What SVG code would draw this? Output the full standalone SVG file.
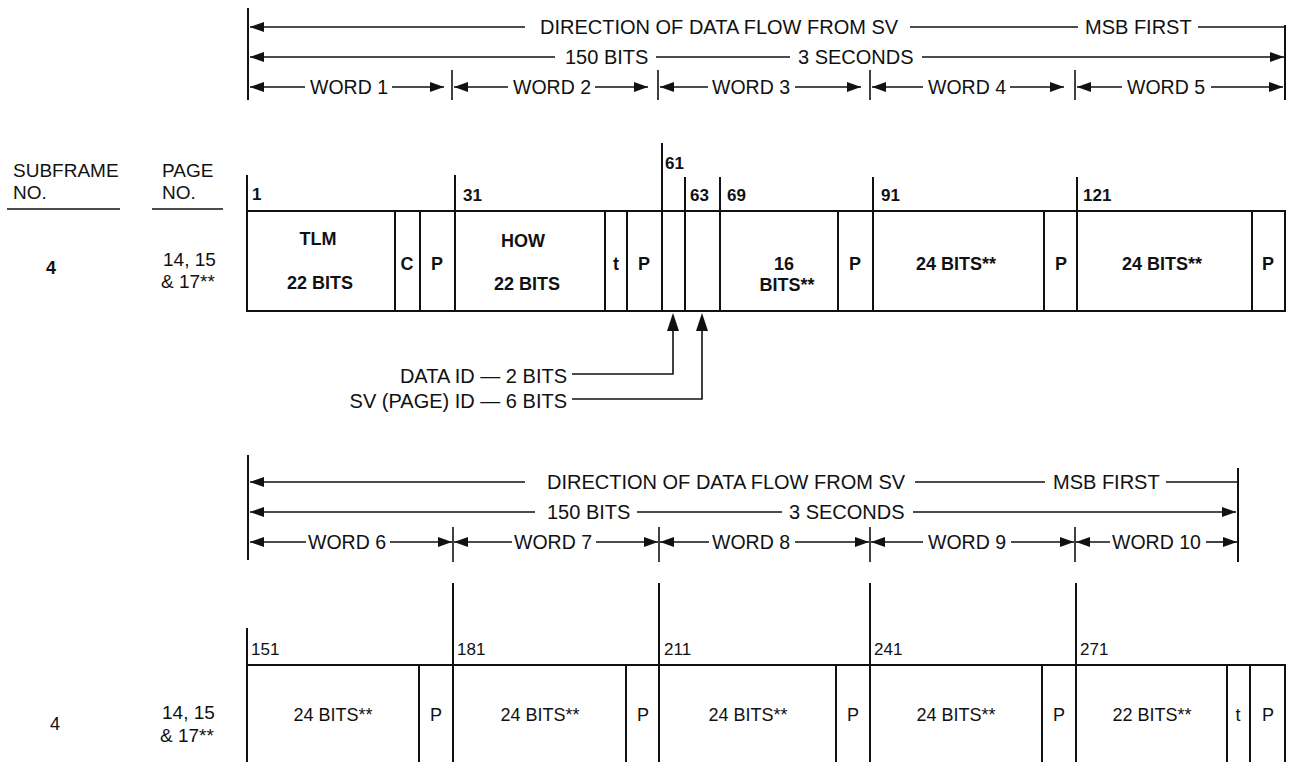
<svg xmlns="http://www.w3.org/2000/svg" width="1290" height="762" viewBox="0 0 1290 762">
<defs>
<marker id="ah" markerUnits="userSpaceOnUse" markerWidth="14" markerHeight="10" refX="14" refY="5" orient="auto">
<path d="M0,0 L14,5 L0,10 z" fill="#111"/>
</marker>
<style>
.ln{stroke:#111;stroke-width:2;fill:none}
.th{stroke:#111;stroke-width:1.6;fill:none}
.ar{stroke:#111;stroke-width:1.6;fill:none;marker-end:url(#ah)}
.box{stroke:#111;stroke-width:2;fill:#fff}
.h{font-family:"Liberation Sans",Arial,sans-serif;font-size:20px;fill:#111}
.w{font-family:"Liberation Sans",Arial,sans-serif;font-size:19.5px;fill:#111}
.b{font-family:"Liberation Sans",Arial,sans-serif;font-size:18px;font-weight:bold;fill:#111;text-anchor:middle}
.r{font-family:"Liberation Sans",Arial,sans-serif;font-size:18px;fill:#111;text-anchor:middle}
.nb{font-family:"Liberation Sans",Arial,sans-serif;font-size:17px;font-weight:bold;fill:#111}
.nr{font-family:"Liberation Sans",Arial,sans-serif;font-size:17px;fill:#111}
.lab{font-family:"Liberation Sans",Arial,sans-serif;font-size:19px;fill:#111}
.tip{fill:#111}
</style>
</defs>
<rect width="1290" height="762" fill="#fff"/>

<!-- ===== TOP HEADER ===== -->
<g id="header-top">
<line class="ln" x1="248" y1="8" x2="248" y2="100"/>
<line class="ln" x1="1285" y1="25" x2="1285" y2="100"/>
<line class="ar" x1="525" y1="27" x2="250" y2="27"/>
<text class="h" x="540" y="34">DIRECTION OF DATA FLOW FROM SV</text>
<line class="th" x1="910" y1="27" x2="1078" y2="27"/>
<text class="h" x="1085" y="34">MSB FIRST</text>
<line class="th" x1="1198" y1="27" x2="1285" y2="27"/>
<line class="ar" x1="555" y1="57" x2="250" y2="57"/>
<text class="h" x="565" y="64">150 BITS</text>
<line class="th" x1="656" y1="57" x2="790" y2="57"/>
<text class="h" x="798" y="64">3 SECONDS</text>
<line class="ar" x1="922" y1="57" x2="1284" y2="57"/>
<line class="th" x1="452" y1="70" x2="452" y2="100"/>
<line class="th" x1="658" y1="70" x2="658" y2="100"/>
<line class="th" x1="870" y1="70" x2="870" y2="100"/>
<line class="th" x1="1075" y1="70" x2="1075" y2="100"/>
<line class="ar" x1="305" y1="87" x2="250" y2="87"/>
<text class="w" x="310" y="94">WORD 1</text>
<line class="ar" x1="392" y1="87" x2="444" y2="87"/>
<line class="ar" x1="508" y1="87" x2="454" y2="87"/>
<text class="w" x="513" y="94">WORD 2</text>
<line class="ar" x1="595" y1="87" x2="648" y2="87"/>
<line class="ar" x1="708" y1="87" x2="660" y2="87"/>
<text class="w" x="712" y="94">WORD 3</text>
<line class="ar" x1="795" y1="87" x2="861" y2="87"/>
<line class="ar" x1="923" y1="87" x2="872" y2="87"/>
<text class="w" x="928" y="94">WORD 4</text>
<line class="ar" x1="1010" y1="87" x2="1064" y2="87"/>
<line class="ar" x1="1122" y1="87" x2="1077" y2="87"/>
<text class="w" x="1127" y="94">WORD 5</text>
<line class="ar" x1="1211" y1="87" x2="1283" y2="87"/>
</g>

<!-- ===== LEFT LABELS TOP ===== -->
<g id="labels-top">
<text class="lab" x="13" y="177">SUBFRAME</text>
<text class="lab" x="13" y="199">NO.</text>
<line class="th" x1="7" y1="209" x2="120" y2="209"/>
<text class="lab" x="162" y="177">PAGE</text>
<text class="lab" x="162" y="199">NO.</text>
<line class="th" x1="152" y1="209" x2="223" y2="209"/>
<text class="b" x="51" y="274" font-size="19">4</text>
<text class="lab" x="163" y="266">14, 15</text>
<text class="lab" x="161" y="288">&amp; 17**</text>
</g>

<!-- ===== TOP ROW ===== -->
<g id="row-top">
<rect class="box" x="247" y="211" width="1038" height="100"/>
<line class="ln" x1="247" y1="175" x2="247" y2="311"/>
<line class="ln" x1="395" y1="211" x2="395" y2="311"/>
<line class="ln" x1="420" y1="211" x2="420" y2="311"/>
<line class="ln" x1="455" y1="175" x2="455" y2="311"/>
<line class="ln" x1="605" y1="211" x2="605" y2="311"/>
<line class="ln" x1="627" y1="211" x2="627" y2="311"/>
<line class="ln" x1="662" y1="143" x2="662" y2="311"/>
<line class="ln" x1="685" y1="177" x2="685" y2="311"/>
<line class="ln" x1="720" y1="177" x2="720" y2="311"/>
<line class="ln" x1="838" y1="211" x2="838" y2="311"/>
<line class="ln" x1="873" y1="177" x2="873" y2="311"/>
<line class="ln" x1="1044" y1="211" x2="1044" y2="311"/>
<line class="ln" x1="1077" y1="177" x2="1077" y2="311"/>
<line class="ln" x1="1252" y1="211" x2="1252" y2="311"/>
<text class="nb" x="252" y="200">1</text>
<text class="nb" x="463" y="201">31</text>
<text class="nb" x="665" y="169">61</text>
<text class="nb" x="690" y="201">63</text>
<text class="nb" x="727" y="201">69</text>
<text class="nb" x="881" y="201">91</text>
<text class="nb" x="1083" y="201">121</text>
<g id="tlm"><text class="b" x="318" y="245">TLM</text><text class="b" x="320" y="289">22 BITS</text></g>
<g id="c1"><text class="b" x="407" y="270">C</text></g>
<g id="p1"><text class="b" x="437" y="270">P</text></g>
<g id="how"><text class="b" x="523" y="247">HOW</text><text class="b" x="527" y="290">22 BITS</text></g>
<g id="t2"><text class="b" x="616" y="270">t</text></g>
<g id="p2"><text class="b" x="644" y="270">P</text></g>
<g id="w3"><text class="b" x="784" y="270">16</text><text class="b" x="787" y="291">BITS**</text></g>
<g id="p3"><text class="b" x="855" y="270">P</text></g>
<g id="w4"><text class="b" x="956" y="270">24 BITS**</text></g>
<g id="p4"><text class="b" x="1061" y="270">P</text></g>
<g id="w5"><text class="b" x="1162" y="270">24 BITS**</text></g>
<g id="p5"><text class="b" x="1268" y="270">P</text></g>
</g>

<!-- ===== ID POINTERS ===== -->
<g id="connectors">
<polyline class="th" points="572,374 673,374 673,330"/>
<path class="tip" d="M673,313 L679,331 L667,331 z"/>
<polyline class="th" points="572,399 702,399 702,330"/>
<path class="tip" d="M702,313 L708,331 L696,331 z"/>
</g>
<g id="id-labels">
<text class="h" x="567" y="383" text-anchor="end">DATA ID — 2 BITS</text>
<text class="h" x="567" y="408" text-anchor="end">SV (PAGE) ID — 6 BITS</text>
</g>

<!-- ===== BOTTOM HEADER ===== -->
<g id="header-bottom">
<line class="ln" x1="248" y1="455" x2="248" y2="560"/>
<line class="ln" x1="1238" y1="468" x2="1238" y2="562"/>
<line class="ar" x1="525" y1="482" x2="250" y2="482"/>
<text class="h" x="547" y="489">DIRECTION OF DATA FLOW FROM SV</text>
<line class="th" x1="915" y1="482" x2="1045" y2="482"/>
<text class="h" x="1053" y="489">MSB FIRST</text>
<line class="th" x1="1166" y1="482" x2="1238" y2="482"/>
<line class="ar" x1="535" y1="512" x2="250" y2="512"/>
<text class="h" x="547" y="519">150 BITS</text>
<line class="th" x1="637" y1="512" x2="782" y2="512"/>
<text class="h" x="789" y="519">3 SECONDS</text>
<line class="ar" x1="913" y1="512" x2="1236" y2="512"/>
<line class="th" x1="453" y1="527" x2="453" y2="562"/>
<line class="th" x1="659" y1="527" x2="659" y2="562"/>
<line class="th" x1="870" y1="527" x2="870" y2="562"/>
<line class="th" x1="1075" y1="527" x2="1075" y2="562"/>
<line class="ar" x1="306" y1="542" x2="250" y2="542"/>
<text class="w" x="308" y="549">WORD 6</text>
<line class="ar" x1="390" y1="542" x2="452" y2="542"/>
<line class="ar" x1="512" y1="542" x2="454" y2="542"/>
<text class="w" x="514" y="549">WORD 7</text>
<line class="ar" x1="596" y1="542" x2="658" y2="542"/>
<line class="ar" x1="709" y1="542" x2="660" y2="542"/>
<text class="w" x="712" y="549">WORD 8</text>
<line class="ar" x1="795" y1="542" x2="869" y2="542"/>
<line class="ar" x1="923" y1="542" x2="871" y2="542"/>
<text class="w" x="928" y="549">WORD 9</text>
<line class="ar" x1="1011" y1="542" x2="1074" y2="542"/>
<line class="ar" x1="1110" y1="542" x2="1076" y2="542"/>
<text class="w" x="1112" y="549">WORD 10</text>
<line class="ar" x1="1206" y1="542" x2="1237" y2="542"/>
</g>

<!-- ===== LEFT LABELS BOTTOM ===== -->
<g id="labels-bottom">
<text class="r" x="55" y="730" font-size="19">4</text>
<text class="lab" x="162" y="719">14, 15</text>
<text class="lab" x="160" y="742">&amp; 17**</text>
</g>

<!-- ===== BOTTOM ROW ===== -->
<g id="row-bottom">
<rect class="box" x="247" y="665" width="1038" height="100"/>
<line class="ln" x1="247" y1="628" x2="247" y2="762"/>
<line class="ln" x1="419" y1="665" x2="419" y2="762"/>
<line class="ln" x1="453" y1="583" x2="453" y2="762"/>
<line class="ln" x1="626" y1="665" x2="626" y2="762"/>
<line class="ln" x1="659" y1="583" x2="659" y2="762"/>
<line class="ln" x1="836" y1="665" x2="836" y2="762"/>
<line class="ln" x1="870" y1="583" x2="870" y2="762"/>
<line class="ln" x1="1042" y1="665" x2="1042" y2="762"/>
<line class="ln" x1="1076" y1="583" x2="1076" y2="762"/>
<line class="ln" x1="1227" y1="665" x2="1227" y2="762"/>
<line class="ln" x1="1250" y1="665" x2="1250" y2="762"/>
<text class="nr" x="251" y="655">151</text>
<text class="nr" x="457" y="655">181</text>
<text class="nr" x="664" y="655">211</text>
<text class="nr" x="874" y="655">241</text>
<text class="nr" x="1080" y="655">271</text>
<g id="w6"><text class="r" x="333" y="721">24 BITS**</text></g>
<g id="p6"><text class="r" x="436" y="721">P</text></g>
<g id="w7"><text class="r" x="540" y="721">24 BITS**</text></g>
<g id="p7"><text class="r" x="643" y="721">P</text></g>
<g id="w8"><text class="r" x="748" y="721">24 BITS**</text></g>
<g id="p8"><text class="r" x="853" y="721">P</text></g>
<g id="w9"><text class="r" x="956" y="721">24 BITS**</text></g>
<g id="p9"><text class="r" x="1059" y="721">P</text></g>
<g id="w10"><text class="r" x="1152" y="721">22 BITS**</text></g>
<g id="t10"><text class="r" x="1238" y="721">t</text></g>
<g id="p10"><text class="r" x="1268" y="721">P</text></g>
</g>
</svg>
